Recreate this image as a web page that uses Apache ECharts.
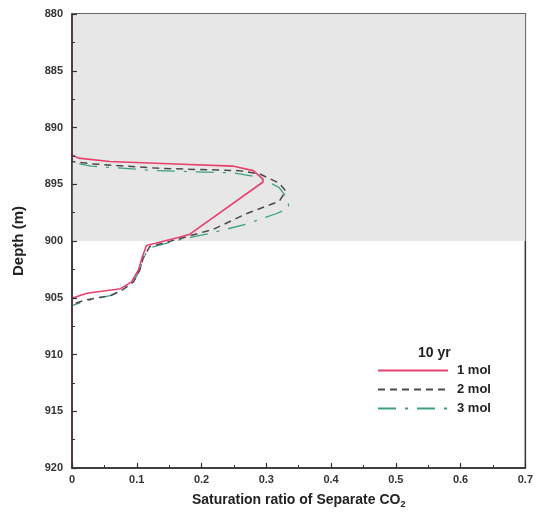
<!DOCTYPE html>
<html>
<head>
<meta charset="utf-8">
<script src="https://cdn.jsdelivr.net/npm/echarts@6/dist/echarts.min.js"></script>
<style>html,body{margin:0;padding:0;background:#fff}#c{width:536px;height:514px}</style>
</head>
<body>
<div id="c"></div>
<script>
// ---- data ----
var xTicks = [0, 0.1, 0.2, 0.3, 0.4, 0.5, 0.6, 0.7];
var yTicks = [880, 885, 890, 895, 900, 905, 910, 915, 920];
var seriesNames = ['1 mol', '2 mol', '3 mol'];
var legendTitle = '10 yr';
var shadedDepth = [880, 900];
var shadedSat = [0, 0.7];

var sat1 = [0, 0, 0.01, 0.058, 0.15, 0.248, 0.28, 0.294, 0.295, 0.182, 0.164, 0.115, 0.108, 0.103, 0.092, 0.075, 0.023, 0.002, 0, 0];
var depth1 = [880, 892.4, 892.7, 893.0, 893.2, 893.4, 893.8, 894.5, 894.8, 899.4, 899.7, 900.4, 901.5, 902.5, 903.6, 904.2, 904.6, 905.0, 905.2, 920];

var sat2 = [0, 0, 0.03, 0.135, 0.258, 0.29, 0.32, 0.33, 0.32, 0.269, 0.217, 0.197, 0.166, 0.12, 0.11, 0.105, 0.095, 0.078, 0.06, 0.02, 0, 0];
var depth2 = [880, 893.0, 893.2, 893.6, 893.8, 894.1, 894.9, 895.6, 896.5, 897.6, 899.0, 899.3, 899.8, 900.5, 901.5, 902.5, 903.6, 904.3, 904.8, 905.2, 905.6, 920];

var sat3 = [0, 0, 0.03, 0.13, 0.25, 0.29, 0.32, 0.333, 0.335, 0.315, 0.27, 0.215, 0.19, 0.166, 0.12, 0.11, 0.105, 0.095, 0.078, 0.06, 0.02, 0, 0];
var depth3 = [880, 893.1, 893.4, 893.8, 894.0, 894.4, 895.3, 896.3, 897.1, 897.6, 898.5, 899.3, 899.6, 899.9, 900.6, 901.5, 902.5, 903.6, 904.3, 904.8, 905.3, 905.7, 920];

function pairs(xs, ys) { return xs.map(function (v, i) { return [v, ys[i]]; }); }

var chart = echarts.init(document.getElementById('c'), null, {renderer: 'canvas'});
var font = 'Arial, "Liberation Sans", sans-serif';
var axisCol = '#333';

chart.setOption({
  animation: false,
  backgroundColor: '#fff',
  grid: {left: 72, right: 10, top: 14, bottom: 40, show: true, borderColor: axisCol, borderWidth: 1.5, backgroundColor: 'transparent'},
  title: {
    text: legendTitle, left: 413, top: 341,
    textStyle: {fontFamily: font, fontSize: 14, fontWeight: 'bold', color: '#222'}
  },
  legend: {
    orient: 'vertical', left: 372, top: 359, itemWidth: 70, itemHeight: 14, itemGap: 6,
    data: seriesNames,
    itemStyle: {opacity: 0},
    textStyle: {fontFamily: font, fontSize: 13, fontWeight: 'bold', color: '#222', padding: [0, 0, 0, 4]}
  },
  xAxis: {
    type: 'value', min: xTicks[0], max: xTicks[xTicks.length - 1], interval: 0.1, z: 10,
    name: 'Saturation ratio of Separate CO{s|2}', nameLocation: 'middle', nameGap: 24,
    nameTextStyle: {fontFamily: font, fontSize: 14, fontWeight: 'bold', color: '#222',
      rich: {s: {fontFamily: font, fontSize: 9, fontWeight: 'bold', color: '#222', verticalAlign: 'bottom', padding: [8, 0, 0, 0]}}},
    axisLine: {show: true, onZero: false, lineStyle: {color: axisCol, width: 1.5}},
    axisTick: {show: true, inside: true, length: 5, lineStyle: {color: axisCol, width: 1.2}},
    minorTick: {show: true, splitNumber: 2, length: 3, lineStyle: {color: axisCol, width: 1}},
    axisLabel: {fontFamily: font, fontSize: 11, fontWeight: 'bold', color: '#333', margin: 6,
      formatter: function (v) { return String(Math.round(v * 10) / 10); }},
    splitLine: {show: false}
  },
  yAxis: {
    type: 'value', inverse: true, min: yTicks[0], max: yTicks[yTicks.length - 1], interval: 5, z: 10,
    name: 'Depth (m)', nameLocation: 'middle', nameGap: 46, nameRotate: 90,
    nameTextStyle: {fontFamily: font, fontSize: 15, fontWeight: 'bold', color: '#222'},
    axisLine: {show: true, onZero: false, lineStyle: {color: axisCol, width: 1.5}},
    axisTick: {show: true, inside: true, length: 5, lineStyle: {color: axisCol, width: 1.2}},
    minorTick: {show: true, splitNumber: 2, length: 3, lineStyle: {color: axisCol, width: 1}},
    axisLabel: {fontFamily: font, fontSize: 11, fontWeight: 'bold', color: '#333', margin: 9},
    splitLine: {show: false}
  },
  series: [
    {
      name: seriesNames[0], type: 'line', symbol: 'none', data: pairs(sat1, depth1), z: 5,
      lineStyle: {color: '#e8406c', width: 1.6, type: 'solid'}, itemStyle: {color: '#e8406c'},
      markArea: {silent: true, itemStyle: {color: '#e7e7e7'},
        data: [[{xAxis: shadedSat[0], yAxis: shadedDepth[0]}, {xAxis: shadedSat[1], yAxis: shadedDepth[1]}]]}
    },
    {
      name: seriesNames[1], type: 'line', symbol: 'none', data: pairs(sat2, depth2), z: 4,
      lineStyle: {color: '#4a4a4a', width: 1.5, type: [7, 5]}, itemStyle: {color: '#4a4a4a'}
    },
    {
      name: seriesNames[2], type: 'line', symbol: 'none', data: pairs(sat3, depth3), z: 3,
      lineStyle: {color: '#3f9f86', width: 1.3, type: [18, 9, 3, 9]}, itemStyle: {color: '#3f9f86'}
    }
  ]
});
</script>
</body>
</html>
